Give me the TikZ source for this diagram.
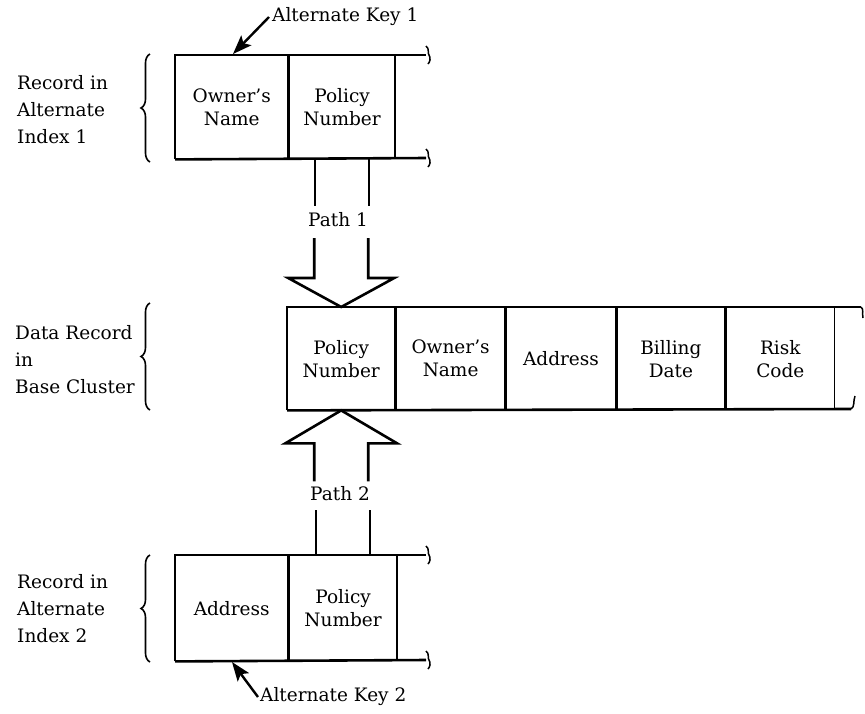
\documentclass[tikz,border=0pt]{standalone}
\usepackage{fontspec}
\setmainfont{DejaVu Serif}
\usetikzlibrary{arrows.meta,decorations.pathreplacing,calc}

\newcommand{\recfont}{\fontsize{18.5}{23}\selectfont}
\newcommand{\tagfont}{\fontsize{18.5}{27}\selectfont}

\begin{document}
\begin{tikzpicture}[x=1pt,y=-1pt,
  cell/.style={draw, line width=1.4pt, minimum width=#1, minimum height=103pt,
    inner sep=0pt, anchor=north west, align=center, font=\recfont},
  edge/.style={line width=2.6pt},
  tag/.style={align=left, anchor=west, inner sep=0pt, font=\tagfont},
  keyArrow/.style={line width=2.4pt, -{Stealth[length=19pt,width=14pt,inset=4pt]}},
  bracket/.style={line width=1.6pt, decorate, decoration={brace, amplitude=9pt}},
  curl/.pic={\draw[line width=1.5pt] (-3,-9) .. controls (1,-6) and (-2,-2) .. (0,0)
    .. controls (2,3) and (1,7) .. (-1,9);}
]
\useasboundingbox (0,0) rectangle (865,713);

% ------------------------
% PARAMETERS
% ------------------------
\def\shaft{27}
\def\wing{53}

% ------------------------
% Record in alternate index 1
% ------------------------
\node[cell=112] (ownA) at (175,55) {Owner's\\Name};
\node[cell=106] (polA) at (ownA.north east) {Policy\\Number};
\draw[edge] (ownA.south west) -- (ownA.north west) -- (426,55);
\draw[edge] (ownA.south west) -- (426,158);
\pic at (429,55) {curl};
\pic at (429,158) {curl};

\draw[bracket] (150,162) -- (150,54);
\node[tag] (idxA) at (17,110) {Record in\\Alternate\\Index 1};

\node[tag] (keyA) at (272,17) {Alternate Key 1};
\draw[keyArrow] ([xshift=-3pt]keyA.west) -- (233,54);

% ------------------------
% Data record in base cluster
% ------------------------
\node[cell=107, minimum height=102pt] (polB) at (287,307) {Policy\\Number};
\node[cell=109, minimum height=102pt] (ownB) at (polB.north east) {Owner's\\Name};
\node[cell=109, minimum height=102pt] (addrB) at (ownB.north east) {Address};
\node[cell=108, minimum height=102pt] (billB) at (addrB.north east) {Billing\\Date};
\node[cell=108, minimum height=102pt] (riskB) at (billB.north east) {Risk\\Code};
\draw[edge] (polB.south west) -- (polB.north west) -- (861,307);
\draw[edge] (polB.south west) -- (851,409);
\draw[line width=1.5pt] (861,307) .. controls (864,309) and (862,314) .. (863,318);
\draw[line width=1.5pt] (851,409) .. controls (855,407) and (853,401) .. (855,396);

\draw[bracket] (150,410) -- (150,303);
\node[tag] (baseB) at (15,360) {Data Record\\in\\Base Cluster};

% ------------------------
% Record in alternate index 2
% ------------------------
\node[cell=112, minimum height=105pt] (addrC) at (175,555) {Address};
\node[cell=108, minimum height=105pt] (polC) at (addrC.north east) {Policy\\Number};
\draw[edge] (addrC.south west) -- (addrC.north west) -- (426,555);
\draw[edge] (addrC.south west) -- (426,660);
\pic at (429,555) {curl};
\pic at (429,660) {curl};

\draw[bracket] (150,662) -- (150,555);
\node[tag] (idxC) at (17,609) {Record in\\Alternate\\Index 2};

\node[tag] (keyC) at (260,697) {Alternate Key 2};
\draw[keyArrow] ([xshift=-2pt]keyC.west) -- (232,662);

% ------------------------
% Path 1 (index 1 -> base cluster)
% ------------------------
\node[font=\recfont] (pathA) at (338,220) {Path 1};
\draw[edge] ($(polA.south)+(-\shaft,0)$) -- ++(0,47);
\draw[edge] ($(polA.south)+(\shaft,0)$) -- ++(0,47);
\draw[edge, line join=miter] ($(polB.north)+(-\shaft,-69)$) -- ($(polB.north)+(-\shaft,-29)$)
  -- ($(polB.north)+(-\wing,-29)$) -- (polB.north)
  -- ($(polB.north)+(\wing,-29)$) -- ($(polB.north)+(\shaft,-29)$)
  -- ($(polB.north)+(\shaft,-69)$);

% ------------------------
% Path 2 (index 2 -> base cluster)
% ------------------------
\node[font=\recfont] (pathC) at (340,494) {Path 2};
\draw[edge] ($(polC.north)+(-\shaft,0)$) -- ++(0,-45);
\draw[edge] ($(polC.north)+(\shaft,0)$) -- ++(0,-45);
\draw[edge, line join=miter] ($(polB.south)+(-\shaft,71)$) -- ($(polB.south)+(-\shaft,33)$)
  -- ($(polB.south)+(-\wing-3,33)$) -- (polB.south)
  -- ($(polB.south)+(\wing+3,33)$) -- ($(polB.south)+(\shaft,33)$)
  -- ($(polB.south)+(\shaft,71)$);

\end{tikzpicture}
\end{document}
